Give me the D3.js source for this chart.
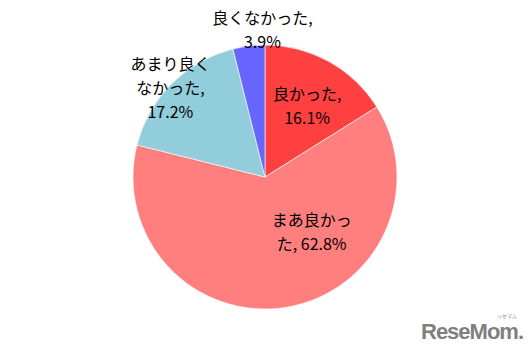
<!DOCTYPE html>
<html>
<head>
<meta charset="utf-8">
<script src="https://cdn.jsdelivr.net/npm/d3@7"></script>
<style>
  html, body { margin: 0; padding: 0; background: #fff; }
  svg { display: block; }
</style>
</head>
<body>
<svg id="chart" width="531" height="355"></svg>
<script>
// Survey answers, clockwise from 12 o'clock
const categories = ["良かった", "まあ良かった", "あまり良くなかった", "良くなかった"];
const values = [16.1, 62.8, 17.2, 3.9];
const colors = ["#FF4040", "#FF7F7F", "#92CDDC", "#6666FF"];
// Character offsets where each label text wraps onto a new line
const lineBreaks = [[5], [5], [5, 10], [7]];

// Label anchor for each slice: angle (deg, clockwise from top) and radius factor
const labelLayout = [
  { angle: 31, r: 0.62 },
  { angle: 140, r: 0.55 },
  { angle: 313, r: 0.98 },
  { angle: 359, r: 1.11 }
];

const width = 531, height = 355;
const cx = 265, cy = 177, radius = 132;
const lineHeight = 24;

const svg = d3.select("#chart");
const g = svg.append("g").attr("transform", `translate(${cx},${cy})`);

const pie = d3.pie().sort(null).value(d => d.value);
const arc = d3.arc().innerRadius(0).outerRadius(radius);

const data = categories.map((c, i) => ({ name: c, value: values[i], color: colors[i] }));
const arcs = pie(data);

g.selectAll("path.slice")
  .data(arcs)
  .join("path")
  .attr("class", "slice")
  .attr("d", arc)
  .attr("fill", d => d.data.color)
  .attr("stroke", "#ffffff")
  .attr("stroke-width", 0.6);

function splitLines(text, breaks) {
  const out = [];
  let start = 0;
  breaks.forEach(b => { out.push(text.slice(start, b).trim()); start = b; });
  out.push(text.slice(start).trim());
  return out;
}

g.selectAll("text.label")
  .data(arcs)
  .join("text")
  .attr("class", "label")
  .attr("font-family", "'Noto Sans CJK JP', 'Noto Sans', sans-serif")
  .attr("font-size", 16)
  .attr("fill", "#000")
  .attr("text-anchor", "middle")
  .each(function(d, i) {
    const text = `${d.data.name}, ${d3.format(".1f")(d.data.value)}%`;
    const lines = splitLines(text, lineBreaks[i]);
    const lay = labelLayout[i];
    const a = lay.angle * Math.PI / 180;
    const x = Math.sin(a) * radius * lay.r;
    const y = -Math.cos(a) * radius * lay.r;
    const y0 = y - (lines.length - 1) * lineHeight / 2;
    d3.select(this).selectAll("tspan")
      .data(lines)
      .join("tspan")
      .attr("x", x)
      .attr("y", (l, k) => y0 + k * lineHeight)
      .attr("dy", "0.35em")
      .text(l => l);
  });

// Site logo in the lower right corner
const logo = svg.append("g").attr("fill", "#7f7f7f");
logo.append("text")
  .attr("x", 421)
  .attr("y", 339)
  .attr("font-family", "'Liberation Sans', Arial, sans-serif")
  .attr("font-weight", "bold")
  .attr("font-size", 22)
  .attr("letter-spacing", -1)
  .text("ReseMom.");
logo.append("text")
  .attr("x", 507)
  .attr("y", 318)
  .attr("text-anchor", "middle")
  .attr("font-family", "'Noto Sans CJK JP', sans-serif")
  .attr("font-size", 5)
  .text("リセマム");
</script>
</body>
</html>
